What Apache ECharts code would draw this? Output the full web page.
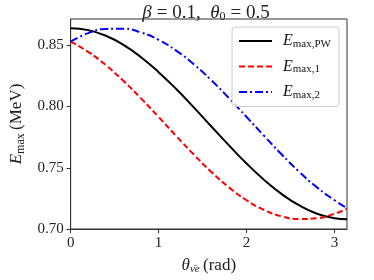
<!DOCTYPE html>
<html><head><meta charset="utf-8">
<script src="https://cdn.jsdelivr.net/npm/echarts@6/dist/echarts.min.js"></script>
<style>html,body{margin:0;padding:0;background:#fff}#c{width:374px;height:280px}</style>
</head><body><div id="c"></div>
<script>
const thetaGrid = [0,0.2,0.4,0.6,0.8,1.0,1.2,1.4,1.6,1.8,2.0,2.2,2.4,2.6,2.8,3.0,3.1416];
const ePW = [0.8640,0.8624,0.8578,0.8504,0.8403,0.8281,0.8143,0.7993,0.7837,0.7683,0.7535,0.7401,0.7285,0.7192,0.7125,0.7088,0.7080];
const e1  = [0.8530,0.8446,0.8338,0.8210,0.8067,0.7915,0.7760,0.7608,0.7466,0.7340,0.7235,0.7155,0.7103,0.7081,0.7088,0.7125,0.7165];
const e2  = [0.8530,0.8600,0.8634,0.8636,0.8605,0.8545,0.8457,0.8345,0.8214,0.8069,0.7915,0.7760,0.7608,0.7466,0.7340,0.7235,0.7170];
const xTicks = [0,1,2,3];
const yTicks = [0.70,0.75,0.80,0.85];
const seriesNames = ['pw','one','two'];

const F = 'Liberation Serif, DejaVu Serif, serif';
const rich = {
  i:{fontFamily:F,fontStyle:'italic',fontSize:16,color:'#111'},
  s:{fontFamily:F,fontSize:11,color:'#111',verticalAlign:'bottom',padding:[6,0,0,0]},
  t:{fontFamily:F,fontSize:16,color:'#111'}
};
const legendText = {pw:'{i|E}{s|max,PW}', one:'{i|E}{s|max,1}', two:'{i|E}{s|max,2}'};
const pair = (xs, ys) => xs.map((x,k)=>[x, ys[k]]);

const chart = echarts.init(document.getElementById('c'), null, {renderer:'canvas'});
chart.setOption({
  animation:false,
  title:{
    text:'{i|β} {t|= 0.1,  }{i|θ}{s|0} {t|= 0.5}',
    left:201, top:-2, textAlign:'center',
    textStyle:{fontWeight:'normal',rich:{
      i:{fontFamily:F,fontStyle:'italic',fontWeight:'normal',fontSize:19,color:'#222'},
      t:{fontFamily:F,fontWeight:'normal',fontSize:19,color:'#222'},
      s:{fontFamily:F,fontWeight:'normal',fontSize:12,color:'#222',verticalAlign:'bottom',padding:[8,0,0,0]}
    }}
  },
  grid:{left:56,right:27,top:19,bottom:44,show:true,borderColor:'#333',borderWidth:1,containLabel:false},
  legend:{
    right:35, top:27, orient:'vertical', itemWidth:33, itemHeight:14, itemGap:9,
    padding:[6,8,6,6],
    backgroundColor:'rgba(255,255,255,0.8)', borderColor:'#ccc', borderWidth:1, borderRadius:3,
    data:seriesNames,
    itemStyle:{opacity:0},
    formatter:n=>legendText[n],
    textStyle:{rich:rich, padding:[0,0,0,6]}
  },
  xAxis:{
    type:'value', min:0, max:Math.PI, interval:1,
    axisLine:{show:true,onZero:false,lineStyle:{color:'#333'}},
    axisTick:{show:true,inside:false,length:4,lineStyle:{color:'#333'}},
    axisLabel:{showMaxLabel:false,fontFamily:F,fontSize:15,color:'#222',margin:7},
    splitLine:{show:false},
    name:'{i|θ}{s|ν̄e} {t|(rad)}', nameLocation:'middle', nameGap:27,
    nameTextStyle:{rich:{
      i:{fontFamily:F,fontStyle:'italic',fontSize:17,color:'#222'},
      s:{fontFamily:F,fontStyle:'italic',fontSize:11,color:'#222',verticalAlign:'bottom',padding:[8,0,0,0]},
      t:{fontFamily:F,fontSize:17,color:'#222'}
    }}
  },
  yAxis:{
    type:'value', min:0.70, max:0.8715, interval:0.05,
    axisLine:{show:true,onZero:false,lineStyle:{color:'#333'}},
    axisTick:{show:true,inside:false,length:4,lineStyle:{color:'#333'}},
    axisLabel:{showMaxLabel:false,fontFamily:F,fontSize:15,color:'#222',margin:7,formatter:v=>v.toFixed(2)},
    splitLine:{show:false},
    name:'{i|E}{s|max} {t|(MeV)}', nameLocation:'middle', nameGap:41, nameRotate:90,
    nameTextStyle:{rich:{
      i:{fontFamily:F,fontStyle:'italic',fontSize:17,color:'#222'},
      s:{fontFamily:F,fontSize:12,color:'#222',verticalAlign:'bottom',padding:[8,0,0,0]},
      t:{fontFamily:F,fontSize:17,color:'#222'}
    }}
  },
  series:[
    {name:'pw',type:'line',smooth:true,showSymbol:false,symbol:'none',data:pair(thetaGrid,ePW),
     lineStyle:{color:'#000',width:2},itemStyle:{color:'#000'}},
    {name:'one',type:'line',smooth:true,showSymbol:false,symbol:'none',data:pair(thetaGrid,e1),
     lineStyle:{color:'#ff0000',width:2,type:[6,3]},itemStyle:{color:'#ff0000'}},
    {name:'two',type:'line',smooth:true,showSymbol:false,symbol:'none',data:pair(thetaGrid,e2),
     lineStyle:{color:'#0000ff',width:2,type:[8,3,2,3]},itemStyle:{color:'#0000ff'}}
  ]
});
</script></body></html>
